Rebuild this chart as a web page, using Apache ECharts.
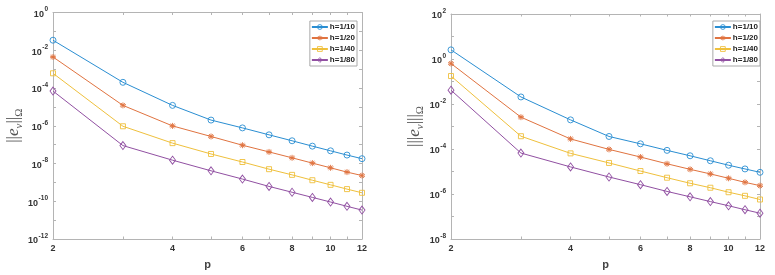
<!DOCTYPE html>
<html><head><meta charset="utf-8">
<script src="https://cdn.jsdelivr.net/npm/echarts@6/dist/echarts.min.js"></script>
<style>html,body{margin:0;padding:0;background:#fff}#c{width:775px;height:275px}</style>
</head><body><div id="c"></div>
<script>
var pValues = [2, 3, 4, 5, 6, 7, 8, 9, 10, 11, 12];
var seriesNames = ['h=1/10', 'h=1/20', 'h=1/40', 'h=1/80'];
var xTickLabels = [2, 4, 6, 8, 10, 12];

var L_h10 = [3.4e-2, 2.0e-4, 1.2e-5, 2.0e-6, 7.7e-7, 3.3e-7, 1.6e-7, 8.3e-8, 4.7e-8, 2.8e-8, 1.8e-8];
var L_h20 = [4.4e-3, 1.2e-5, 9.8e-7, 2.7e-7, 9.3e-8, 4.1e-8, 2.0e-8, 1.05e-8, 5.9e-9, 3.5e-9, 2.3e-9];
var L_h40 = [6.0e-4, 9.4e-7, 1.2e-7, 3.2e-8, 1.2e-8, 5.0e-9, 2.5e-9, 1.3e-9, 7.4e-10, 4.4e-10, 2.8e-10];
var L_h80 = [6.9e-5, 8.9e-8, 1.5e-8, 4.1e-9, 1.5e-9, 6.1e-10, 3.0e-10, 1.6e-10, 9.1e-11, 5.4e-11, 3.4e-11];

var R_h10 = [2.55, 2.06e-2, 1.97e-3, 3.6e-4, 1.7e-4, 8.7e-5, 5.0e-5, 3.0e-5, 1.9e-5, 1.3e-5, 9.2e-6];
var R_h20 = [0.63, 2.6e-3, 2.8e-4, 9.6e-5, 4.4e-5, 2.2e-5, 1.25e-5, 7.8e-6, 5.0e-6, 3.3e-6, 2.35e-6];
var R_h40 = [0.175, 3.7e-4, 6.4e-5, 2.4e-5, 1.05e-5, 5.3e-6, 3.0e-6, 1.9e-6, 1.2e-6, 8.3e-7, 5.7e-7];
var R_h80 = [4.1e-2, 6.6e-5, 1.6e-5, 5.7e-6, 2.6e-6, 1.3e-6, 7.5e-7, 4.6e-7, 3.0e-7, 2.0e-7, 1.4e-7];

var colors = ['#2a8ed2', '#e07340', '#efc03c', '#9150a2'];
var symbols = [
  'path://M5,0A5,5,0,1,1,5,10A5,5,0,1,1,5,0Z',
  'path://M5,0L5,10M0.2,3.4L9.8,6.6M0.2,6.6L9.8,3.4M2,1L8,9M2,9L8,1',
  'path://M0,0L10,0L10,10L0,10Z',
  'path://M5,0L10,5L5,10L0,5Z'
];
var symbolSizes = [6, 6, 5, [6, 8]];

var axisGray = '#b4b4b4';
var font = 'Liberation Sans, Arial, sans-serif';
var clear = 'rgba(255,255,255,0)';

function pow10(k) { return Math.pow(10, k); }
function range(a, b) { var r = []; for (var i = a; i <= b; i++) r.push(i); return r; }
function pairs(vals) { return pValues.map(function (p, i) { return [p, vals[i]]; }); }

var tickRich = {
  b: { fontSize: 9, fontWeight: 'bold', color: '#333', fontFamily: font, lineHeight: 13, verticalAlign: 'bottom' },
  sup: { fontSize: 6.5, fontWeight: 'bold', color: '#333', fontFamily: font, lineHeight: 13, verticalAlign: 'top', padding: [0, 0, 0, 0.5] }
};

function yLabel(v) {
  var e = Math.round(Math.log(v) / Math.LN10);
  return '{b|10}{sup|' + e + '}';
}

function xAxes(gi) {
  var base = {
    type: 'log', logBase: 10, gridIndex: gi, min: 2, max: 12,
    axisLine: { show: true, lineStyle: { color: axisGray, width: 1 } },
    splitLine: { show: false }, minorTick: { show: false }
  };
  var bottom = Object.assign({}, base, {
    position: 'bottom',
    name: 'p', nameLocation: 'middle', nameGap: 20,
    nameTextStyle: { fontSize: 11, fontWeight: 'bold', color: '#444', fontFamily: font },
    axisTick: { show: true, inside: true, length: 2.5, lineStyle: { color: axisGray }, customValues: pValues },
    axisLabel: { show: true, customValues: xTickLabels, fontSize: 9, fontWeight: 'bold', color: '#333', fontFamily: font, margin: 5,
      formatter: function (v) { return String(Math.round(v)); } }
  });
  var top = Object.assign({}, base, {
    position: 'top',
    axisTick: { show: true, inside: true, length: 2.5, lineStyle: { color: axisGray }, customValues: pValues },
    axisLabel: { show: false }
  });
  return [bottom, top];
}

function yAxes(gi, minE, maxE, nameText, nameGap) {
  var base = {
    type: 'log', logBase: 10, gridIndex: gi, min: pow10(minE), max: pow10(maxE),
    axisLine: { show: true, lineStyle: { color: axisGray, width: 1 } },
    splitLine: { show: false }, minorTick: { show: false }
  };
  var decades = range(minE, maxE).map(pow10);
  var labelled = range(minE, maxE).filter(function (k) { return (k - minE) % 2 === 0; }).map(pow10);
  var serif = 'Liberation Serif, serif';
  var left = Object.assign({}, base, {
    position: 'left',
    name: nameText, nameLocation: 'middle', nameGap: nameGap, nameRotate: 90,
    nameTextStyle: {
      rich: {
        n: { fontSize: 17, color: '#555', fontFamily: serif, verticalAlign: 'middle', lineHeight: 22 },
        e: { fontSize: 17, fontStyle: 'italic', color: '#555', fontFamily: serif, verticalAlign: 'middle', lineHeight: 22 },
        s: { fontSize: 11, fontStyle: 'italic', color: '#555', fontFamily: serif, verticalAlign: 'bottom', lineHeight: 22 },
        o: { fontSize: 11, color: '#555', fontFamily: serif, verticalAlign: 'bottom', lineHeight: 22 }
      }
    },
    axisTick: { show: true, inside: true, length: 3, lineStyle: { color: axisGray }, customValues: decades },
    axisLabel: { show: true, customValues: labelled, margin: 5, formatter: yLabel, rich: tickRich }
  });
  var right = Object.assign({}, base, {
    position: 'right',
    axisTick: { show: true, inside: true, length: 3, lineStyle: { color: axisGray }, customValues: decades },
    axisLabel: { show: false }
  });
  return [left, right];
}

function makeSeries(dataSets, xi, yi) {
  return dataSets.map(function (vals, i) {
    return {
      name: seriesNames[i], type: 'line', xAxisIndex: xi, yAxisIndex: yi,
      data: pairs(vals),
      symbol: symbols[i], symbolSize: symbolSizes[i], showAllSymbol: true,
      lineStyle: { color: colors[i], width: 1 },
      itemStyle: { color: clear, borderColor: colors[i], borderWidth: 0.9 },
      emphasis: { disabled: true },
      animation: false, z: 3
    };
  });
}

function legend(rightPx, topPx) {
  return {
    data: seriesNames.map(function (n, i) {
      return { name: n, itemStyle: { color: clear, borderColor: colors[i], borderWidth: 0.9 } };
    }),
    orient: 'vertical', right: rightPx, top: topPx,
    backgroundColor: '#fff', borderColor: '#aaa', borderWidth: 1,
    padding: [2, 2, 2, 1], itemGap: 3, itemWidth: 16, itemHeight: 6,
    textStyle: { fontSize: 8, fontWeight: 'bold', color: '#222', fontFamily: font, padding: [0, 0, 0, -3] },
    selectedMode: false
  };
}

var xs = xAxes(0).concat(xAxes(1));
var ys = yAxes(0, -12, 0, '{n|||}{e|e}{s|v}{n|||}{o|Ω}', 24)
  .concat(yAxes(1, -8, 2, '{n||||}{e|e}{s|v}{n||||}{o|Ω}', 17));

var option = {
  animation: false,
  backgroundColor: '#fff',
  grid: [
    { left: 53, width: 309, top: 12.5, height: 226.5, show: false },
    { left: 451, width: 309, top: 14, height: 226, show: false }
  ],
  legend: [legend(775 - 357, 21), legend(775 - 760, 21)],
  xAxis: xs,
  yAxis: ys,
  series: makeSeries([L_h10, L_h20, L_h40, L_h80], 0, 0)
    .concat(makeSeries([R_h10, R_h20, R_h40, R_h80], 2, 2))
};

var chart = echarts.init(document.getElementById('c'), null, { renderer: 'canvas' });
chart.setOption(option);
</script>
</body></html>
